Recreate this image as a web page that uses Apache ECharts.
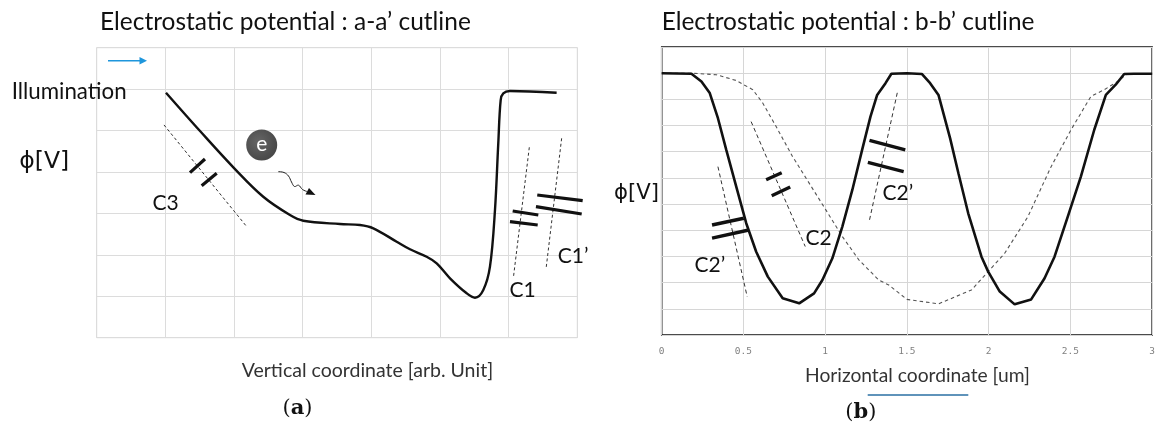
<!DOCTYPE html>
<html><head><meta charset="utf-8">
<script src="https://cdn.jsdelivr.net/npm/echarts@6/dist/echarts.min.js"></script>
<style>html,body{margin:0;padding:0;background:#fff}#c{width:1158px;height:432px}</style>
</head><body><div id="c"></div>
<script>
// ---------- text ----------
const titles = ['Electrostatic potential : a-a’ cutline', 'Electrostatic potential : b-b’ cutline'];
const xNames = ['Vertical coordinate [arb. Unit]', 'Horizontal coordinate [um]'];
const panelLetters = ['a', 'b'];
const yName = 'ϕ[V]';
const illumination = 'Illumination';

// ---------- panel (a): a-a' cutline (arb. units, 7 x 7 grid) ----------
const aX = [1.009, 1.505, 2.004, 2.426, 2.815, 3.009, 3.543, 3.835, 4.029, 4.369, 4.563, 4.806, 4.952, 5.146, 5.389, 5.510, 5.631, 5.728, 5.801, 5.849, 5.884, 5.922, 6.019, 6.699];
const aY = [5.914, 4.989, 4.089, 3.403, 2.962, 2.824, 2.744, 2.720, 2.641, 2.317, 2.134, 1.955, 1.796, 1.434, 1.072, 0.965, 1.151, 1.714, 3.082, 4.692, 5.737, 5.899, 5.955, 5.914];

// ---------- panel (b): b-b' cutline (um) ----------
const bTicks = [0, 0.5, 1, 1.5, 2, 2.5, 3];
const bSolidX = [0, 0.182, 0.243, 0.294, 0.344, 0.395, 0.456, 0.517, 0.578, 0.649, 0.740, 0.841, 0.932, 0.983, 1.044, 1.105, 1.166, 1.226, 1.277, 1.318, 1.369, 1.405, 1.5, 1.591, 1.642, 1.693, 1.764, 1.815, 1.875, 1.956, 1.997, 2.068, 2.159, 2.260, 2.342, 2.403, 2.484, 2.564, 2.646, 2.717, 2.777, 2.829, 2.889, 3.0];
const bSolidY = [10.0, 9.98, 9.68, 9.24, 8.28, 7.07, 5.67, 4.27, 3.18, 2.23, 1.40, 1.21, 1.59, 2.10, 2.93, 4.14, 5.54, 7.07, 8.34, 9.17, 9.62, 9.98, 10.0, 9.97, 9.62, 9.17, 7.52, 6.18, 4.65, 2.99, 2.42, 1.66, 1.17, 1.36, 2.17, 2.99, 4.52, 6.05, 7.84, 9.17, 9.56, 9.97, 9.98, 9.98];
const bDashX = [0, 0.182, 0.335, 0.456, 0.557, 0.618, 0.700, 0.800, 0.902, 1.004, 1.105, 1.206, 1.328, 1.389, 1.5, 1.693, 1.895, 1.997, 2.098, 2.240, 2.382, 2.504, 2.625, 2.707, 2.788, 2.848, 3.0];
const bDashY = [10.0, 10.0, 9.94, 9.72, 9.37, 8.86, 7.96, 6.82, 5.80, 4.78, 3.76, 2.87, 2.10, 1.91, 1.36, 1.19, 1.72, 2.42, 3.12, 4.52, 6.43, 7.84, 9.11, 9.37, 9.68, 9.98, 9.98];

// ---------- capacitor annotations (data coordinates) ----------
const annA = {
  dashed: [[[0.980, 5.136], [2.174, 2.703]], [[6.301, 4.596], [6.068, 1.434]], [[6.772, 4.813], [6.544, 1.651]]],
  plates: [[[1.359, 3.983], [1.577, 4.313]], [[1.529, 3.669], [1.748, 3.968]],
           [[6.059, 3.058], [6.432, 2.962]], [[6.020, 2.800], [6.423, 2.720]],
           [[6.417, 3.444], [7.078, 3.307]], [[6.398, 3.162], [7.064, 2.986]]]
};
const annB = {
  dashed: [[[0.344, 6.43], [0.523, 1.46]], [[0.547, 8.15], [0.878, 3.38]], [[1.441, 9.25], [1.269, 4.33]]],
  plates: [[[0.308, 4.20], [0.502, 4.46]], [[0.308, 3.70], [0.533, 4.01]],
           [[0.639, 5.93], [0.734, 6.20]], [[0.673, 5.32], [0.786, 5.65]],
           [[1.271, 7.43], [1.490, 7.07]], [[1.261, 6.59], [1.480, 6.24]]]
};
const capLabelsA = ['C3', 'C1', 'C1’'];
const capLabelsB = ['C2’', 'C2', 'C2’'];

const zip = (xs, ys) => xs.map((x, i) => [x, ys[i]]);

const SANS = 'Lato';
const chart = echarts.init(document.getElementById('c'), null, {renderer: 'canvas'});

const hiddenAxis = (gi, max, interval, gridColor) => ({
  type: 'value', gridIndex: gi, min: 0, max: max, interval: interval,
  axisLine: {show: false}, axisTick: {show: false}, axisLabel: {show: false},
  splitLine: {show: true, lineStyle: {color: gridColor, width: 1}}
});

chart.setOption({
  animation: false,
  backgroundColor: '#fff',
  grid: [
    {left: 96.7, top: 47.7, width: 480.6, height: 290, show: true, borderColor: '#d9d9d9', borderWidth: 1},
    {left: 661.7, top: 47, width: 493.3, height: 288, show: true, borderColor: '#111', borderWidth: 1.5}
  ],
  xAxis: [
    hiddenAxis(0, 7, 1, '#dcdcdc'),
    {type: 'value', gridIndex: 1, min: 0, max: 3, interval: 0.5,
     axisLine: {show: false}, axisTick: {show: false},
     axisLabel: {show: true, color: '#808080', fontSize: 9.5, fontFamily: 'DejaVu Sans Mono', margin: 12,
                 formatter: v => String(bTicks.find(t => Math.abs(t - v) < 1e-9) ?? v)},
     splitLine: {show: true, lineStyle: {color: '#d6d6d6', width: 1}}}
  ],
  yAxis: [
    hiddenAxis(0, 7, 1, '#dcdcdc'),
    hiddenAxis(1, 11, 1, '#d6d6d6')
  ],
  series: [
    {type: 'line', xAxisIndex: 0, yAxisIndex: 0, data: zip(aX, aY), smooth: 0.35, showSymbol: false,
     lineStyle: {color: '#111', width: 2.4}},
    {type: 'line', xAxisIndex: 1, yAxisIndex: 1, data: zip(bDashX, bDashY), smooth: false, showSymbol: false,
     lineStyle: {color: '#555', width: 1.1, type: [3.5, 3]}},
    {type: 'line', xAxisIndex: 1, yAxisIndex: 1, data: zip(bSolidX, bSolidY), smooth: false, showSymbol: false,
     lineStyle: {color: '#111', width: 2.6}}
  ]
});

// ---------- decorations ----------
const mctx = document.createElement('canvas').getContext('2d');
function fitSize(text, family, weight, target) {
  mctx.font = weight + ' 100px ' + family;
  return 100 * target / mctx.measureText(text).width;
}
function txt(text, left, width, cy, opts) {
  opts = opts || {};
  const fam = opts.family || SANS, w = opts.weight || 'normal';
  const size = opts.size || fitSize(text, fam, w, width);
  return {type: 'text', x: left, y: cy, z: 100, silent: true,
    style: {text: text, fontFamily: fam, fontSize: size, fontWeight: w, fill: opts.color || '#111',
            align: 'left', textAlign: 'left', verticalAlign: 'middle', textVerticalAlign: 'middle'}};
}
const P = (gi, p) => chart.convertToPixel({gridIndex: gi}, p);
function seg(gi, s, style) {
  const a = P(gi, s[0]), b = P(gi, s[1]);
  return {type: 'line', z: 90, silent: true, shape: {x1: a[0], y1: a[1], x2: b[0], y2: b[1]}, style: style};
}
const dashStyle = {stroke: '#333', lineWidth: 1, lineDash: [3, 2.5]};
const plateStyle = {stroke: '#111', lineWidth: 3.2, lineCap: 'butt'};

const els = [];
annA.dashed.forEach(s => els.push(seg(0, s, dashStyle)));
annA.plates.forEach(s => els.push(seg(0, s, plateStyle)));
annB.dashed.forEach(s => els.push(seg(1, s, Object.assign({}, dashStyle, {lineDash: [4, 3]}))));
annB.plates.forEach(s => els.push(seg(1, s, Object.assign({}, plateStyle, {lineWidth: 3.4}))));

// titles & labels
els.push(txt(titles[0], 100, 371, 22));
els.push(txt(titles[1], 661.7, 373, 22));
els.push(txt(illumination, 11.7, 115, 91.7));
els.push(txt(yName, 19.3, 50, 161.7, {family: 'DejaVu Sans'}));
els.push(txt(yName, 614, 45, 193, {family: 'DejaVu Sans'}));
const CS = 21;
els.push(txt(capLabelsA[0], 152.5, 0, 203.3, {size: CS}));
els.push(txt(capLabelsA[1], 509.5, 0, 290, {size: CS}));
els.push(txt(capLabelsA[2], 557.7, 0, 256.7, {size: CS}));
els.push(txt(capLabelsB[0], 694.5, 0, 265, {size: CS}));
els.push(txt(capLabelsB[1], 805.5, 0, 238.3, {size: CS}));
els.push(txt(capLabelsB[2], 882.5, 0, 193.3, {size: CS}));
els.push(txt(xNames[0], 241.7, 251.6, 371, {color: '#333'}));
els.push(txt(xNames[1], 805, 225, 375.7, {color: '#333'}));

// panel letters (serif, bold letter)
function letter(l, cx, cy) {
  return {type: 'text', x: cx, y: cy, z: 100, silent: true,
    style: {text: '(' + '{b|' + l + '})', fontFamily: 'DejaVu Serif', fontSize: 21, fill: '#111',
            align: 'center', textAlign: 'center', verticalAlign: 'middle', textVerticalAlign: 'middle',
            rich: {b: {fontFamily: 'DejaVu Serif', fontSize: 21, fontWeight: 'bold', fill: '#111'}}}};
}
els.push(letter(panelLetters[0], 297.5, 409));
els.push(letter(panelLetters[1], 860.8, 413));

// illumination arrow (blue)
els.push({type: 'line', z: 90, shape: {x1: 108, y1: 60.7, x2: 141, y2: 60.7}, style: {stroke: '#1e96dc', lineWidth: 1.6}});
els.push({type: 'polygon', z: 90, shape: {points: [[147, 60.7], [139.5, 57], [139.5, 64.4]]}, style: {fill: '#1e96dc'}});
// blue underline in (b)
els.push({type: 'line', z: 90, shape: {x1: 867.7, y1: 395, x2: 968.3, y2: 395}, style: {stroke: '#2a6fa3', lineWidth: 1.5}});

// electron
els.push({type: 'circle', z: 95, shape: {cx: 261.7, cy: 145, r: 15.5},
  style: {fill: {type: 'radial', x: 0.4, y: 0.4, r: 0.7, colorStops: [{offset: 0, color: '#666'}, {offset: 1, color: '#444'}]}}});
els.push({type: 'text', x: 261.7, y: 144, z: 100,
  style: {text: 'e', fontFamily: SANS, fontSize: 21, fill: '#fff', align: 'center', textAlign: 'center',
          verticalAlign: 'middle', textVerticalAlign: 'middle'}});
// wavy electron drift arrow
els.push({type: 'polyline', z: 90, shape: {points: [[278.3, 171.7], [284, 172.5], [288.5, 176], [291.5, 182], [294.5, 186.5], [298.5, 185.2], [302.5, 189.5], [307, 191.5]], smooth: 0.4},
  style: {stroke: '#222', lineWidth: 1, fill: null}});
els.push({type: 'polygon', z: 90, shape: {points: [[315.5, 195], [305.5, 194.5], [309, 188]]}, style: {fill: '#111'}});

chart.setOption({graphic: {elements: els}});
</script>
</body></html>
